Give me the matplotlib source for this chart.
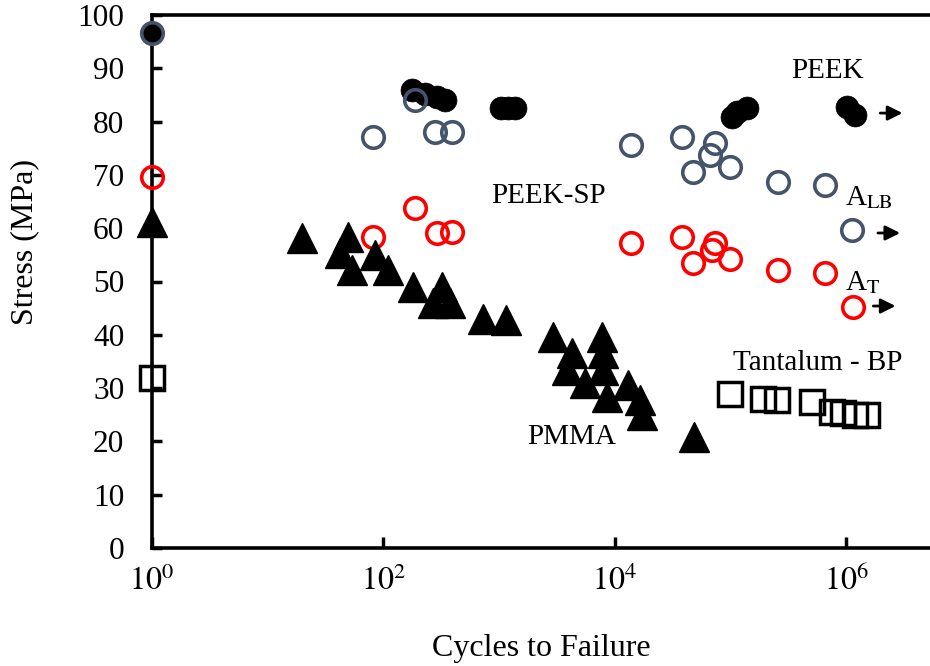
import numpy as np
import matplotlib
matplotlib.use("Agg")
import matplotlib.pyplot as plt

plt.rcParams['font.family'] = ['Liberation Serif', 'DejaVu Serif']
plt.rcParams['mathtext.fontset'] = 'stix'

# cycles to failure / stress (MPa)
peek_n = [1, 177, 229, 290, 341, 1038, 1194, 1372, 1.03e5, 1.14e5, 1.39e5, 1.02e6, 1.19e6]
peek_s = [96.6, 85.9, 85.2, 84.6, 84.1, 82.6, 82.6, 82.6, 80.9, 81.8, 82.6, 82.8, 81.3]

peeksp_n = [1, 81, 188, 279, 392, 1.38e4, 3.81e4, 7.34e4, 6.65e4, 4.74e4, 9.9e4, 2.57e5, 6.56e5, 1.12e6]
peeksp_s = [96.6, 77.1, 84.1, 78.0, 78.0, 75.6, 77.1, 76.0, 73.7, 70.5, 71.5, 68.6, 68.1, 59.7]

at_n = [1, 81, 188, 290, 392, 1.38e4, 3.81e4, 7.34e4, 6.92e4, 4.74e4, 9.9e4, 2.57e5, 6.56e5, 1.15e6]
at_s = [69.6, 58.3, 63.8, 59.1, 59.3, 57.2, 58.3, 57.2, 55.9, 53.5, 54.2, 52.2, 51.6, 45.2]

pmma_n = [1, 19.8, 49.4, 42.2, 53.5, 84.6, 110, 180, 321, 268, 376, 726, 1148,
          2924, 4266, 3864, 5520, 7745, 7907, 7907, 8570, 1.30e4, 1.65e4, 1.72e4, 4.84e4]
pmma_s = [61.2, 58.2, 58.3, 55.3, 52.2, 55.0, 52.2, 49.0, 49.0, 46.0, 46.0, 43.0, 42.8,
          39.6, 36.6, 33.4, 31.0, 39.6, 36.6, 33.4, 28.3, 30.6, 27.8, 25.0, 20.8]

ta_n = [1, 9.9e4, 1.91e5, 2.52e5, 5.06e5, 7.53e5, 9.38e5, 1.19e6, 1.51e6]
ta_s = [31.9, 28.9, 28.0, 27.8, 27.4, 25.5, 25.3, 25.0, 25.0]

# run-outs (arrow start cycles, arrow end cycles, stress)
runout_n0 = [10**6.27, 10**6.25, 10**6.21]
runout_n1 = [10**6.51, 10**6.49, 10**6.45]
runout_s = [81.6, 59.1, 45.4]

grey = '#44546A'

fig = plt.figure(figsize=(9.3, 6.66), dpi=100)
ax = fig.add_axes([152/930, 1 - 548/666, 1 - 152/930, (548 - 15)/666])

ax.plot(peek_n, peek_s, 'o', color='k', ms=16.5, mec='k', mew=0.5, clip_on=False, zorder=3)
ax.plot(peeksp_n, peeksp_s, 'o', mfc='none', mec=grey, ms=15.5, mew=2.6, clip_on=False, zorder=4)
ax.plot(at_n, at_s, 'o', mfc='none', mec='#FF0000', ms=15.5, mew=2.6, clip_on=False, zorder=4)
ax.plot(pmma_n, pmma_s, '^', color='k', ms=22, mew=1, clip_on=False, zorder=5)
ax.plot(ta_n, ta_s, 's', mfc='none', mec='k', ms=17.5, mew=2.5, clip_on=False, zorder=4)

for n0, n1, s in zip(runout_n0, runout_n1, runout_s):
    ax.annotate('', xy=(n1, s), xytext=(n0, s),
                arrowprops=dict(arrowstyle='-|>', color='k', lw=2, mutation_scale=22))

ax.set_xscale('log')
ax.set_xlim(1, 10**6.724)
ax.set_ylim(0, 100)

ax.set_xticks([1, 1e2, 1e4, 1e6])
ax.set_xticklabels(['$10^{0}$', '$10^{2}$', '$10^{4}$', '$10^{6}$'])
ax.xaxis.set_minor_locator(matplotlib.ticker.NullLocator())
ax.set_yticks(range(0, 101, 10))

ax.tick_params(axis='x', direction='in', length=8, width=2.5, labelsize=23, pad=13)
ax.tick_params(axis='y', direction='in', length=7, width=2.5, labelsize=22.5, pad=20)

for side in ['left', 'bottom', 'top']:
    ax.spines[side].set_linewidth(2.6)
ax.spines['right'].set_visible(False)

ax.set_xlabel('Cycles to Failure', fontsize=23, va='center')
ax.xaxis.set_label_coords(0.501, -0.188)
ax.set_ylabel('Stress (MPa)', fontsize=23, va='center')
ax.yaxis.set_label_coords(-0.163, 0.574)

ax.text(6.83e5, 89.5, 'PEEK', fontsize=21, ha='center', va='center')
ax.text(2650, 66.0, 'PEEK-SP', fontsize=21, ha='center', va='center')
ax.text(9.77e5, 64.4, r'A$_{\mathrm{LB}}$', fontsize=21, ha='left', va='baseline')
ax.text(9.77e5, 48.4, r'A$_{\mathrm{T}}$', fontsize=21, ha='left', va='baseline')
ax.text(5.71e5, 34.7, 'Tantalum - BP', fontsize=21, ha='center', va='center')
ax.text(4266, 20.8, 'PMMA', fontsize=21, ha='center', va='center')

fig.savefig('out.png', dpi=100)
